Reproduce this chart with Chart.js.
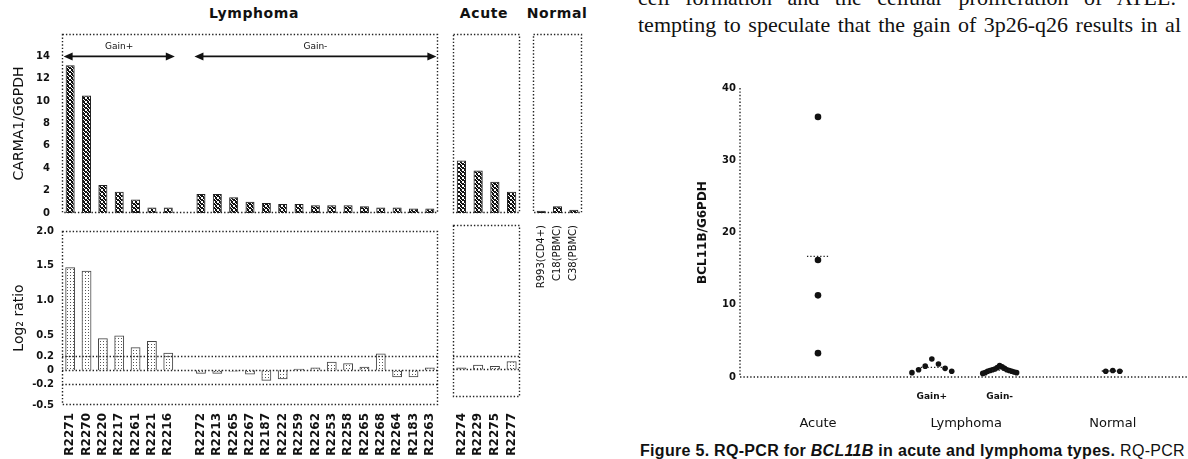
<!DOCTYPE html>
<html><head><meta charset="utf-8">
<script src="https://cdn.jsdelivr.net/npm/chart.js@4.4.1/dist/chart.umd.min.js"></script>
<style>
html,body{margin:0;padding:0;background:#fff;}
body{width:1188px;height:459px;overflow:hidden;position:relative;}
canvas{position:absolute;}
.t{position:absolute;white-space:nowrap;color:#111;}
.serif{font-family:'Liberation Serif','DejaVu Serif',serif;font-size:22px;line-height:25px;color:#111;word-spacing:2px;}
.hd{font-family:'DejaVu Sans',sans-serif;font-size:14px;transform:translateX(-50%);letter-spacing:0.6px;font-weight:bold;}
.cap{font-family:'Liberation Sans',Arial,sans-serif;font-size:16px;line-height:18px;letter-spacing:0.3px;}
</style></head><body>
<div class="t serif" style="left:638px;top:-15px;word-spacing:10px;">cell formation and the cellular proliferation of ATLL.</div>
<div class="t serif" style="left:638px;top:12px;">tempting to speculate that the gain of 3p26-q26 results in al</div>
<div class="t hd" style="left:254px;top:5px;">Lymphoma</div>
<div class="t hd" style="left:484px;top:5px;">Acute</div>
<div class="t hd" style="left:557px;top:5px;">Normal</div>
<div class="t cap" style="left:640px;top:442px;"><b>Figure 5. RQ-PCR for <i>BCL11B</i> in acute and lymphoma types.</b> RQ-PCR w</div>
<script>
// ===== DATA =====
const gainPlusIds = ['R2271','R2270','R2220','R2217','R2261','R2221','R2216'];
const gainMinusIds = ['R2272','R2213','R2265','R2267','R2187','R2222','R2259','R2262','R2253','R2258','R2265','R2268','R2264','R2183','R2263'];
const acuteIds = ['R2274','R2229','R2275','R2277'];
const normalIds = ['R993(CD4+)','C18(PBMC)','C38(PBMC)'];

const carmaGainPlus = [13.2, 10.5, 2.5, 1.9, 1.2, 0.5, 0.5];
const carmaGainMinus = [1.7, 1.7, 1.4, 1.0, 0.9, 0.8, 0.8, 0.7, 0.7, 0.7, 0.6, 0.5, 0.5, 0.4, 0.4];
const carmaAcute = [4.7, 3.8, 2.8, 1.9];
const carmaNormal = [0.2, 0.6, 0.3];

const log2GainPlus = [1.48, 1.43, 0.46, 0.5, 0.33, 0.42, 0.25];
const log2GainMinus = [-0.05, -0.05, -0.02, -0.06, -0.15, -0.13, 0.02, 0.04, 0.12, 0.1, 0.05, 0.24, -0.1, -0.1, 0.04];
const log2Acute = [0.03, 0.07, 0.05, 0.12];

const carmaTicks = [0, 2, 4, 6, 8, 10, 12, 14];
const log2Ticks = [-0.5, -0.2, 0, 0.2, 0.5, 1.0, 1.5, 2.0];
const log2RefLines = [0.2, 0, -0.2];
const bclTicks = [0, 10, 20, 30, 40];

const bclGroups = ['Acute', 'Gain+', 'Gain-', 'Normal'];
const bclAcute = [36, 16.2, 11.3, 3.3];
const bclGainPlus = [2.5, 1.8, 1.5, 1.2, 1.0, 0.8, 0.6];
const bclGainMinus = [1.6, 1.4, 1.3, 1.2, 1.1, 1.0, 1.0, 0.9, 0.9, 0.8, 0.8, 0.7, 0.6, 0.6, 0.5];
const bclNormal = [0.9, 0.8, 0.8];
const bclAxisGroups = ['Acute', 'Lymphoma', 'Normal'];

// ===== SETUP =====
Chart.defaults.font.family = "'DejaVu Sans', sans-serif";
Chart.defaults.color = '#111';
Chart.defaults.animation = false;

function place(box, axisLeft, axisBottom, pad) {
  const c = document.createElement('canvas');
  const left = box.x0 - axisLeft - pad.l;
  const top = box.y0 - pad.t;
  const w = box.x1 + pad.r - left;
  const h = box.y1 + axisBottom + pad.b - top;
  c.width = w; c.height = h;
  c.style.left = left + 'px'; c.style.top = top + 'px';
  c.style.width = w + 'px'; c.style.height = h + 'px';
  document.body.appendChild(c);
  return c;
}
function pattern(size, cells, color) {
  const p = document.createElement('canvas');
  p.width = p.height = size;
  const g = p.getContext('2d');
  g.fillStyle = color;
  cells.forEach(([x, y]) => g.fillRect(x, y, 1, 1));
  return g.createPattern(p, 'repeat');
}
const darkFill = pattern(4, [[0,0],[3,0],[1,1],[2,1],[1,2],[2,2],[0,3],[3,3],[0,1],[3,2]], '#111');
const lightFill = pattern(3, [[1,1]], '#555');

const deco = {
  id: 'deco',
  afterDatasetsDraw(chart, args, o) {
    if (!o || !o.frame) return;
    const {ctx, chartArea: a, scales} = chart;
    ctx.save();
    ctx.strokeStyle = '#222';
    ctx.lineWidth = 1.4;
    ctx.setLineDash([1.4, 2]);
    if (o.frame === 'box') ctx.strokeRect(a.left + 0.5, a.top + 0.5, a.width - 1, a.height - 1);
    if (o.frame === 'axes') {
      ctx.beginPath(); ctx.moveTo(a.left, a.top); ctx.lineTo(a.left, a.bottom); ctx.lineTo(a.right, a.bottom); ctx.stroke();
    }
    (o.hlines || []).forEach(v => {
      const y = Math.round(scales.y.getPixelForValue(v)) + 0.5;
      ctx.beginPath(); ctx.moveTo(a.left, y); ctx.lineTo(a.right, y); ctx.stroke();
    });
    ctx.restore();
  }
};
Chart.register(deco);

const noGrid = {display: false, drawTicks: false};
function zeroPad(s) { s.paddingLeft = 0; s.paddingRight = 0; s.paddingTop = 0; s.paddingBottom = 0; }
function fixW(w) { return s => { s.width = w; zeroPad(s); }; }
function fixH(h) { return s => { s.height = h; zeroPad(s); }; }

// ===== LYMPHOMA TOP =====
const slotLabels = [...gainPlusIds, '', ...gainMinusIds];
const arrows = {
  id: 'arrows',
  afterDatasetsDraw(chart) {
    const {ctx, scales: {x, y}} = chart;
    const slot = x.getPixelForValue(1) - x.getPixelForValue(0);
    const spans = [
      {from: 0, to: gainPlusIds.length - 1, label: 'Gain+'},
      {from: gainPlusIds.length + 1, to: slotLabels.length - 1, label: 'Gain-'}
    ];
    const yy = y.getPixelForValue(14);
    ctx.save();
    ctx.strokeStyle = '#111'; ctx.fillStyle = '#111'; ctx.lineWidth = 1.6;
    spans.forEach(s => {
      const x0 = x.getPixelForValue(s.from) - slot * 0.4;
      const x1 = x.getPixelForValue(s.to) + slot * 0.4;
      ctx.beginPath(); ctx.moveTo(x0 + 6, yy); ctx.lineTo(x1 - 6, yy); ctx.stroke();
      ctx.beginPath(); ctx.moveTo(x0, yy); ctx.lineTo(x0 + 9, yy - 4); ctx.lineTo(x0 + 9, yy + 4); ctx.closePath(); ctx.fill();
      ctx.beginPath(); ctx.moveTo(x1, yy); ctx.lineTo(x1 - 9, yy - 4); ctx.lineTo(x1 - 9, yy + 4); ctx.closePath(); ctx.fill();
      ctx.font = "9px 'DejaVu Sans'"; ctx.textAlign = 'center'; ctx.textBaseline = 'bottom';
      ctx.fillText(s.label, (x0 + x1) / 2, yy - 5);
    });
    ctx.restore();
  }
};
new Chart(place({x0:62,y0:34,x1:438,y1:213}, 62, 0, {l:0,t:8,r:4,b:8}), {
  type: 'bar',
  data: {labels: slotLabels, datasets: [{data: [...carmaGainPlus, null, ...carmaGainMinus],
    backgroundColor: darkFill, borderColor: '#222', borderWidth: 1, barPercentage: 0.55, categoryPercentage: 1}]},
  options: {responsive: false, devicePixelRatio: 1, layout: {padding: {left:0,top:8,right:4,bottom:8}},
    plugins: {legend: {display: false}, tooltip: {enabled: false}, deco: {frame: 'box'}},
    scales: {
      x: {display: false},
      y: {min: 0, max: 16, grid: noGrid, border: {display: false}, afterFit: fixW(62),
        afterBuildTicks: s => { s.ticks = carmaTicks.map(v => ({value: v})); },
        ticks: {padding: 12, font: {size: 10, weight: 'bold'}},
        title: {display: true, text: 'CARMA1/G6PDH', font: {size: 14}, padding: {top: 11, bottom: 0}}}
    }},
  plugins: [arrows]
});

// ===== ACUTE TOP =====
new Chart(place({x0:453,y0:34,x1:520,y1:213}, 0, 0, {l:4,t:8,r:4,b:8}), {
  type: 'bar',
  data: {labels: acuteIds, datasets: [{data: carmaAcute,
    backgroundColor: darkFill, borderColor: '#222', borderWidth: 1, barPercentage: 0.55, categoryPercentage: 1}]},
  options: {responsive: false, devicePixelRatio: 1, layout: {padding: {left:4,top:8,right:4,bottom:8}},
    plugins: {legend: {display: false}, tooltip: {enabled: false}, deco: {frame: 'box'}},
    scales: {x: {display: false}, y: {display: false, min: 0, max: 16}}}
});

// ===== NORMAL TOP =====
new Chart(place({x0:533,y0:34,x1:582,y1:213}, 0, 80, {l:4,t:8,r:6,b:2}), {
  type: 'bar',
  data: {labels: normalIds, datasets: [{data: carmaNormal,
    backgroundColor: darkFill, borderColor: '#222', borderWidth: 1, barPercentage: 0.55, categoryPercentage: 1}]},
  options: {responsive: false, devicePixelRatio: 1, layout: {padding: {left:4,top:8,right:6,bottom:2}},
    plugins: {legend: {display: false}, tooltip: {enabled: false}, deco: {frame: 'box'}},
    scales: {
      x: {grid: noGrid, border: {display: false}, afterFit: fixH(80),
        ticks: {minRotation: 90, maxRotation: 90, padding: 12, autoSkip: false, font: {size: 10}}},
      y: {display: false, min: 0, max: 16}}}
});

// ===== LYMPHOMA BOTTOM =====
const fmtLog = v => v === 0 ? '0' : v.toFixed(1);
new Chart(place({x0:62,y0:231,x1:438,y1:405}, 62, 54, {l:0,t:8,r:4,b:0}), {
  type: 'bar',
  data: {labels: slotLabels, datasets: [{data: [...log2GainPlus, null, ...log2GainMinus],
    backgroundColor: lightFill, borderColor: '#444', borderWidth: 1, barPercentage: 0.6, categoryPercentage: 1}]},
  options: {responsive: false, devicePixelRatio: 1, layout: {padding: {left:0,top:8,right:4,bottom:0}},
    plugins: {legend: {display: false}, tooltip: {enabled: false}, deco: {frame: 'box', hlines: log2RefLines}},
    scales: {
      x: {grid: noGrid, border: {display: false}, afterFit: fixH(54),
        ticks: {minRotation: 90, maxRotation: 90, padding: 8, autoSkip: false, font: {size: 12, weight: 'bold'}}},
      y: {min: -0.5, max: 2.0, grid: noGrid, border: {display: false}, afterFit: fixW(62),
        afterBuildTicks: s => { s.ticks = log2Ticks.map(v => ({value: v})); },
        ticks: {padding: 8, font: {size: 10, weight: 'bold'}, callback: v => fmtLog(v)},
        title: {display: true, text: 'Log\u2082 ratio', font: {size: 14}, padding: {top: 11, bottom: 0}}}
    }}
});

// ===== ACUTE BOTTOM =====
new Chart(place({x0:453,y0:225,x1:520,y1:397}, 0, 62, {l:4,t:8,r:4,b:0}), {
  type: 'bar',
  data: {labels: acuteIds, datasets: [{data: log2Acute,
    backgroundColor: lightFill, borderColor: '#444', borderWidth: 1, barPercentage: 0.6, categoryPercentage: 1}]},
  options: {responsive: false, devicePixelRatio: 1, layout: {padding: {left:4,top:8,right:4,bottom:0}},
    plugins: {legend: {display: false}, tooltip: {enabled: false}, deco: {frame: 'box', hlines: [0.2, 0]}},
    scales: {
      x: {grid: noGrid, border: {display: false}, afterFit: fixH(62),
        ticks: {minRotation: 90, maxRotation: 90, padding: 16, autoSkip: false, font: {size: 12, weight: 'bold'}}},
      y: {display: false, min: -0.4, max: 2.1}}}
});

// ===== BCL11B DOT PLOT =====
const groupCentre = {'Acute': 1.0, 'Gain+': 2.46, 'Gain-': 3.33, 'Normal': 4.78, 'Lymphoma': 2.9};
const groupStep = {'Acute': 0, 'Gain+': 0.085, 'Gain-': 0.031, 'Normal': 0.09};
function swarm(values, group) {
  const order = values.map((v, i) => i).sort((a, b) => values[b] - values[a]);
  const pts = new Array(values.length);
  order.forEach((idx, r) => {
    const k = Math.ceil(r / 2) * (r % 2 ? 1 : -1);
    pts[idx] = {x: groupCentre[group] + k * groupStep[group], y: values[idx]};
  });
  return pts;
}
const bclSeries = [bclAcute, bclGainPlus, bclGainMinus, bclNormal];
const meanLines = {
  id: 'meanLines',
  afterDatasetsDraw(chart) {
    const {ctx, scales: {x, y}} = chart;
    ctx.save(); ctx.strokeStyle = '#222'; ctx.lineWidth = 1.3; ctx.setLineDash([1.3, 2]);
    bclSeries.forEach((vals, gi) => {
      const m = vals.reduce((a, b) => a + b, 0) / vals.length;
      const cx = x.getPixelForValue(groupCentre[bclGroups[gi]]);
      const yy = y.getPixelForValue(m);
      ctx.beginPath(); ctx.moveTo(cx - 11, yy); ctx.lineTo(cx + 11, yy); ctx.stroke();
    });
    ctx.restore();
  }
};
const xMax = 6.54;
new Chart(place({x0:740,y0:88,x1:1250,y1:377}, 50, 58, {l:0,t:8,r:8,b:4}), {
  type: 'scatter',
  data: {datasets: bclSeries.map((vals, gi) => ({
    label: bclGroups[gi], data: swarm(vals, bclGroups[gi]),
    backgroundColor: '#111', borderColor: '#111', pointRadius: gi === 0 ? 3.3 : 2.8, pointBorderWidth: 0}))},
  options: {responsive: false, devicePixelRatio: 1, layout: {padding: {left:0,top:8,right:8,bottom:4}},
    plugins: {legend: {display: false}, tooltip: {enabled: false}, deco: {frame: 'axes'}},
    scales: {
      x: {type: 'linear', min: 0, max: xMax, grid: noGrid, border: {display: false}, afterFit: fixH(28),
        afterBuildTicks: s => { s.ticks = ['Gain+', 'Gain-'].map(g => ({value: groupCentre[g]})); },
        ticks: {padding: 14, autoSkip: false, maxRotation: 0, font: {size: 9, weight: 'bold'},
          callback: (v, i) => ['Gain+', 'Gain-'][i]}},
      x2: {type: 'linear', position: 'bottom', min: 0, max: xMax, grid: noGrid, border: {display: false}, afterFit: fixH(30),
        afterBuildTicks: s => { s.ticks = bclAxisGroups.map(g => ({value: groupCentre[g]})); },
        ticks: {padding: 11, autoSkip: false, maxRotation: 0, font: {size: 13},
          callback: (v, i) => bclAxisGroups[i]}},
      y: {min: 0, max: 40, grid: noGrid, border: {display: false}, afterFit: fixW(50),
        afterBuildTicks: s => { s.ticks = bclTicks.map(v => ({value: v})); },
        ticks: {padding: 4, font: {size: 10, weight: 'bold'}},
        title: {display: true, text: 'BCL11B/G6PDH', font: {size: 12, weight: 'bold'}, padding: {top: 6, bottom: 0}}}
    }},
  plugins: [meanLines]
});
</script>
</body></html>
